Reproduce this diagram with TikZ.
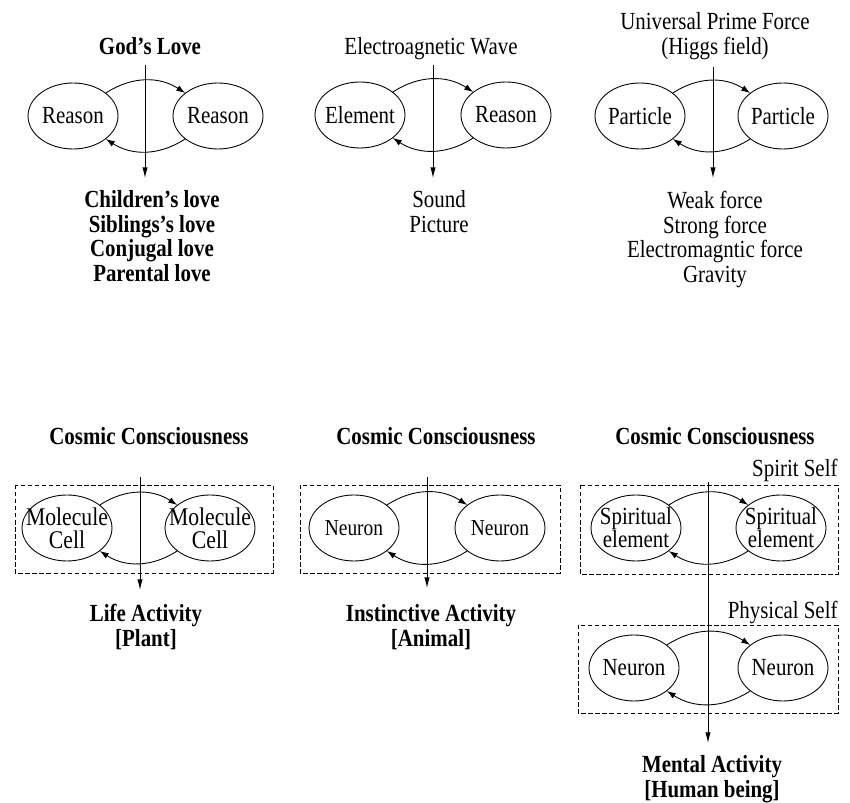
\documentclass[tikz,border=0pt]{standalone}
\usepackage{fontspec}
\setmainfont{Liberation Serif}[FakeStretch=0.85]
\usetikzlibrary{arrows.meta,shapes.geometric}

\tikzset{
  cell/.style={draw, ellipse, minimum width=1.8cm, minimum height=1.32cm, inner sep=0pt},
  loopline/.style={-{Latex[length=5pt,width=3.5pt]}, bend left=33},
  flow/.style={-{Latex[length=6pt,width=3pt]}},
  selfbox/.style={dash pattern=on 2.5pt off 1.5pt},
  txt/.style={align=center, inner sep=0pt, font=\fontsize{14}{14}\selectfont},
  btxt/.style={txt, font=\fontsize{14}{14}\selectfont\bfseries},
}

\begin{document}
\begin{tikzpicture}[x=0.02cm, y=-0.02cm, line width=0.5pt]
\useasboundingbox (0,0) rectangle (850,803);

% top row
\node[btxt, anchor=base] (love-src) at (150,55) {God's Love};
\node[cell, label={[txt]center:Reason}] (love-l) at (73,116) {};
\node[cell, label={[txt]center:Reason}] (love-r) at (218,116) {};
\draw[loopline] (love-l.35) to (love-r.145);
\draw[loopline] (love-r.215) to (love-l.325);
\coordinate (love-in) at (145,65);
\coordinate (love-out) at (145,178);
\draw[flow] (love-in) -- (love-out);
\node[btxt, anchor=north] (love-kinds) at (152,190) {Children's love\\Siblings's love\\Conjugal love\\Parental love};

\node[txt, anchor=base] (wave-src) at (431,55) {Electroagnetic Wave};
\node[cell, label={[txt]center:Element}] (wave-l) at (360,115) {};
\node[cell, label={[txt]center:Reason}] (wave-r) at (506,115) {};
\draw[loopline] (wave-l.35) to (wave-r.145);
\draw[loopline] (wave-r.215) to (wave-l.325);
\coordinate (wave-in) at (433,65);
\coordinate (wave-out) at (433,178);
\draw[flow] (wave-in) -- (wave-out);
\node[txt, anchor=north] (wave-kinds) at (439,190) {Sound\\Picture};

\node[txt, anchor=north] (force-src) at (715,12) {Universal Prime Force\\(Higgs field)};
\node[cell, label={[txt]center:Particle}] (force-l) at (640,116) {};
\node[cell, label={[txt]center:Particle}] (force-r) at (783,116) {};
\draw[loopline] (force-l.35) to (force-r.145);
\draw[loopline] (force-r.215) to (force-l.325);
\coordinate (force-in) at (713,67);
\coordinate (force-out) at (713,178);
\draw[flow] (force-in) -- (force-out);
\node[txt, anchor=north] (force-kinds) at (715,191) {Weak force\\Strong force\\Electromagntic force\\Gravity};

% bottom row
\node[btxt, anchor=base] (plant-src) at (149,445) {Cosmic Consciousness};
\draw[selfbox] (15,485) rectangle (273,573);
\node[cell, label={[txt, font=\fontsize{14.5}{13}\selectfont]center:Molecule\\Cell}] (plant-l) at (67,528) {};
\node[cell, label={[txt, font=\fontsize{14.5}{13}\selectfont]center:Molecule\\Cell}] (plant-r) at (210,528) {};
\draw[loopline] (plant-l.35) to (plant-r.145);
\draw[loopline] (plant-r.215) to (plant-l.325);
\coordinate (plant-in) at (140,477);
\coordinate (plant-out) at (140,590);
\draw[flow] (plant-in) -- (plant-out);
\node[btxt, anchor=north] (plant-act) at (146,604) {Life Activity\\{[}Plant{]}};

\node[btxt, anchor=base] (animal-src) at (436,445) {Cosmic Consciousness};
\draw[selfbox] (300,485) rectangle (560,573);
\node[cell, label={[txt, font=\fontsize{13}{13}\selectfont]center:Neuron}] (animal-l) at (354,528) {};
\node[cell, label={[txt, font=\fontsize{13}{13}\selectfont]center:Neuron}] (animal-r) at (500,528) {};
\draw[loopline] (animal-l.35) to (animal-r.145);
\draw[loopline] (animal-r.215) to (animal-l.325);
\coordinate (animal-in) at (427,477);
\coordinate (animal-out) at (427,588);
\draw[flow] (animal-in) -- (animal-out);
\node[btxt, anchor=north] (animal-act) at (431,604) {Instinctive Activity\\{[}Animal{]}};

\node[btxt, anchor=base] (human-src) at (715,445) {Cosmic Consciousness};
\node[txt, anchor=base east] (spirit-tag) at (838,477) {Spirit Self};
\draw[selfbox] (580,485) rectangle (838,574);
\node[cell, label={[txt, font=\fontsize{14}{13}\selectfont]center:Spiritual\\element}] (spirit-l) at (636,528) {};
\node[cell, label={[txt, font=\fontsize{14}{13}\selectfont]center:Spiritual\\element}] (spirit-r) at (781,528) {};
\draw[loopline] (spirit-l.35) to (spirit-r.145);
\draw[loopline] (spirit-r.215) to (spirit-l.325);
\node[txt, anchor=base east] (body-tag) at (838,619) {Physical Self};
\draw[selfbox] (578,625) rectangle (838,713);
\node[cell, label={[txt]center:Neuron}] (body-l) at (634,668) {};
\node[cell, label={[txt]center:Neuron}] (body-r) at (783,668) {};
\draw[loopline] (body-l.35) to (body-r.145);
\draw[loopline] (body-r.215) to (body-l.325);
\coordinate (human-in) at (708,482);
\coordinate (human-out) at (708,743);
\draw[flow] (human-in) -- (human-out);
\node[btxt, anchor=north] (human-act) at (712,755) {Mental Activity\\{[}Human being{]}};
\end{tikzpicture}
\end{document}
